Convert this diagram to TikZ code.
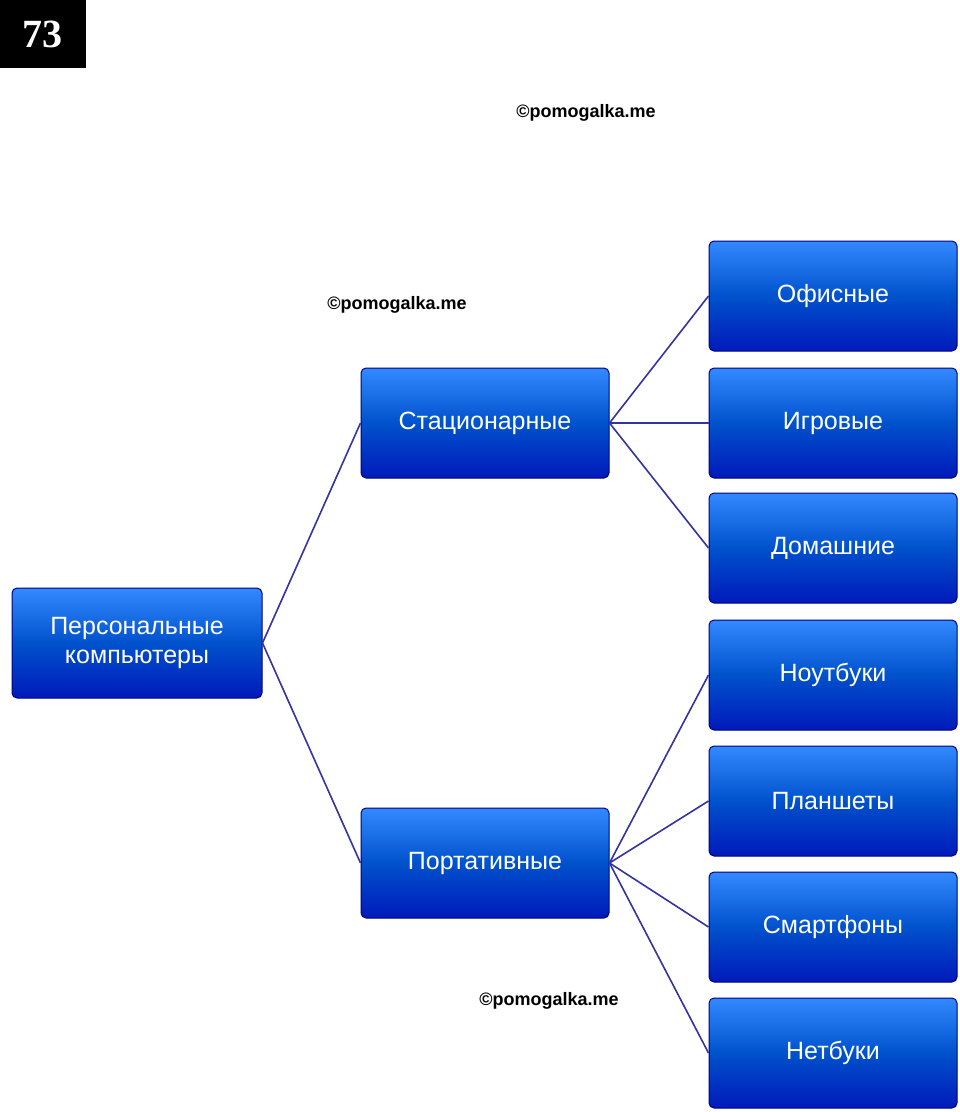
\documentclass[tikz,border=0pt]{standalone}
\usepackage{fontspec}
\setmainfont{Liberation Sans}
\newfontfamily\serifb{Liberation Serif}
\begin{document}
\begin{tikzpicture}[x=1pt,y=-1pt,
  boxn/.style={rounded corners=5pt,minimum width=248pt,minimum height=110pt,
    top color=blue!30!cyan!60!blue!80!white,bottom color=blue!70!black!90!cyan,
    middle color=blue!60!cyan!80!black,draw=blue!50!black,line width=1pt,
    text=white,font=\fontsize{25}{29}\selectfont,align=center,inner sep=2pt},
  link/.style={draw=blue!55!black!80!white,line width=1.6pt},
  wm/.style={font=\bfseries\fontsize{18}{20}\selectfont,text=black}]
\useasboundingbox (0,0) rectangle (960,1112);
\fill[white] (0,0) rectangle (960,1112);
\node[fill=black,text=white,font=\serifb\bfseries\fontsize{40}{44}\selectfont,minimum width=86pt,minimum height=68pt,inner sep=0] (num) at (43,34) {73};
\node[wm] (w1) at (586,113) {©pomogalka.me};
\node[wm] (w2) at (397,305) {©pomogalka.me};
\node[wm] (w3) at (549,1001) {©pomogalka.me};
\node[boxn,minimum width=250pt] (root) at (137,643) {Персональные\\компьютеры};
\node[boxn] (st) at (485,423) {Стационарные};
\node[boxn] (pt) at (485,863) {Портативные};
\node[boxn] (a1) at (833,296) {Офисные};
\node[boxn] (a2) at (833,423) {Игровые};
\node[boxn] (a3) at (833,548) {Домашние};
\node[boxn] (b1) at (833,675) {Ноутбуки};
\node[boxn] (b2) at (833,801) {Планшеты};
\node[boxn] (b3) at (833,927) {Смартфоны};
\node[boxn] (b4) at (833,1053) {Нетбуки};
\begin{scope}[on background layer/.style={}]
\draw[link] (root.east) -- (st.west);
\draw[link] (root.east) -- (pt.west);
\foreach \t in {a1,a2,a3} \draw[link] (st.east) -- (\t.west);
\foreach \t in {b1,b2,b3,b4} \draw[link] (pt.east) -- (\t.west);
\end{scope}
\end{tikzpicture}
\end{document}
